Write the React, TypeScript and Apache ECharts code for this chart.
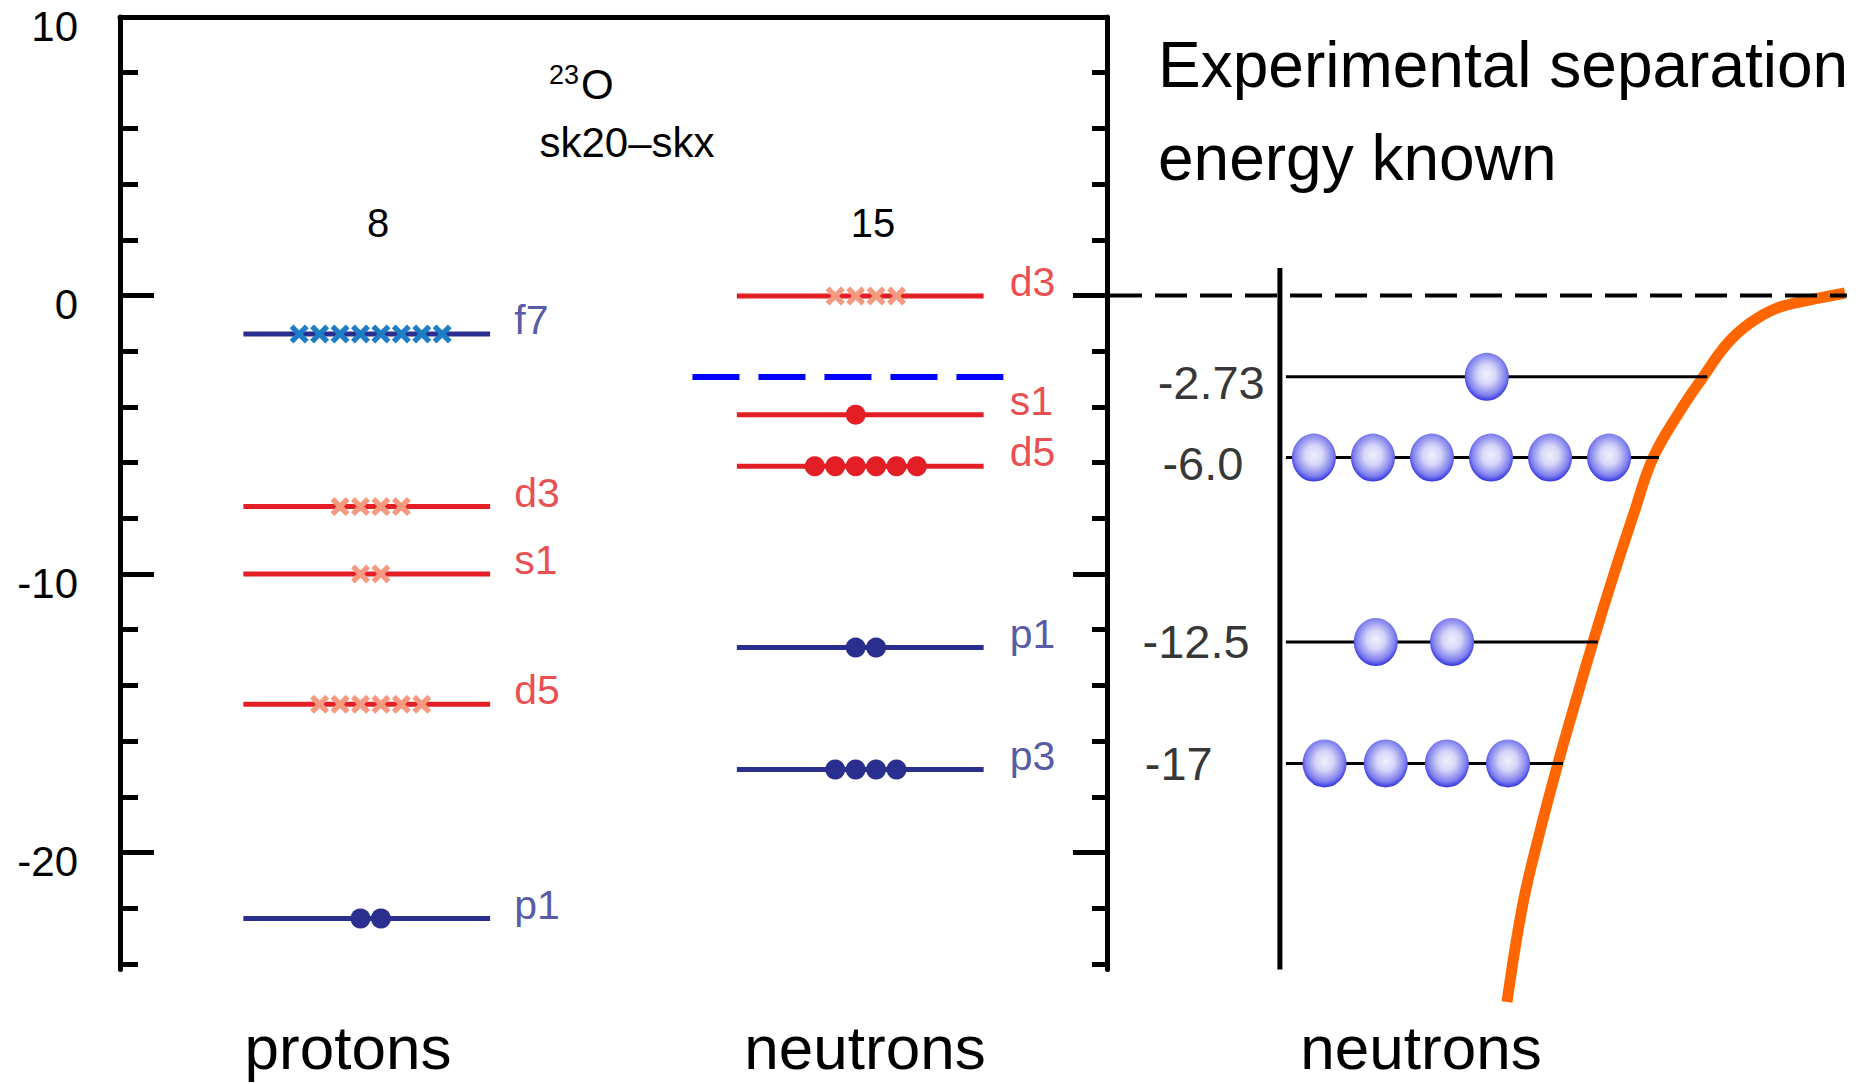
import React, { useEffect, useRef } from "react";
import * as echarts from "echarts";

const FONT = '"Liberation Sans", Arial, Helvetica, sans-serif';

// ---------- energy axis (MeV) ----------
const yMin = -24.2;
const yMax = 10;
const minorTicks = [-24, -22, -20, -18, -16, -14, -12, -10, -8, -6, -4, -2, 0, 2, 4, 6, 8, 10];
const majorTicks = [-20, -10, 0];
const tickLabels = [-20, -10, 0, 10];

// ---------- sk20-skx single-particle levels, 23O ----------
const protonNames = ["f7", "d3", "s1", "d5", "p1"];
const protonEnergies = [-1.38, -7.58, -10.0, -14.68, -22.37];
const protonOccupancy = [8, 4, 2, 6, 2];
const protonFilled = [false, false, false, false, true];

const neutronNames = ["d3", "s1", "d5", "p1", "p3"];
const neutronEnergies = [-0.02, -4.28, -6.13, -12.64, -17.02];
const neutronOccupancy = [4, 1, 6, 2, 4];
const neutronFilled = [false, true, true, true, true];

const neutronSeparation = -2.93; // blue dashed line

// ---------- experimental panel ----------
const expLabels = ["-2.73", "-6.0", "-12.5", "-17"];
const expEnergies = [-2.92, -5.82, -12.44, -16.8];
const expOccupancy = [1, 6, 2, 4];

// potential well (orange curve), x in panel units, y in MeV
const wellX = [52.98, 55.1, 57.4, 59.74, 61.85, 64.37, 67.02, 69.67, 72.32, 75.89, 78.94, 82.12, 85.17, 88.74, 93.11, 97.75];
const wellE = [-25.37, -21.82, -19.19, -16.79, -14.78, -12.44, -10.11, -7.92, -5.83, -4.15, -2.93, -1.74, -0.99, -0.45, -0.16, 0.09];

// ---------- layout (not data) ----------
const RED = "#e31e24";
const NAVY = "#2a2e8e";
const SALMON = "#f59a80";
const XBLUE = "#1f7dc5";
const ORANGE = "#ff6600";

const protonLine = [12.5, 37.5];
const neutronLine = [62.5, 87.5];
const protonMarkCenter = 25.4;
const neutronMarkCenter = 75.57;
const markSpacing = 2.07;
const protonLabelX = 39.9;
const neutronLabelX = 90.1;
const sepLine = [58, 89.5];

const rightAxisX = 22.9;
const rightAxisTop = 0.99;
const expLineStart = 23.7;
const expLineEnd = [79.5, 73.1, 65.0, 60.4];
const ballCenter = [50.3, 46.95, 40.65, 40.97];
const ballSpacing = [0, 7.82, 10.1, 8.1];
const expLabelX = [13.8, 12.7, 11.8, 9.5];
const expLabelDy = [6, 6, 0, 0];

const CROSS = "path://M0,4L4,0L10,6L16,0L20,4L14,10L20,16L16,20L10,14L4,20L0,16L6,10Z";

const levelColor = (name: string) => ("sd".includes(name[0]) ? RED : NAVY);

function slots(n: number, center: number, spacing: number): number[] {
  const c = n % 2 === 1 ? center - spacing / 2 : center;
  const out: number[] = [];
  for (let i = 0; i < n; i++) out.push(c + (i - (n - 1) / 2) * spacing);
  return out;
}

function buildOption() {
  const series: any[] = [];

  const addPanel = (
    names: string[],
    energies: number[],
    occ: number[],
    filled: boolean[],
    line: number[],
    center: number,
    labelX: number
  ) => {
    energies.forEach((e, i) => {
      series.push({
        type: "line",
        xAxisIndex: 0,
        yAxisIndex: 0,
        data: [
          [line[0], e],
          [line[1], e],
        ],
        symbol: "none",
        silent: true,
        z: 2,
        lineStyle: { color: levelColor(names[i]), width: 5, cap: "butt" },
      });
      const red = levelColor(names[i]) === RED;
      const color = filled[i] ? (red ? RED : NAVY) : red ? SALMON : XBLUE;
      series.push({
        type: "scatter",
        xAxisIndex: 0,
        yAxisIndex: 0,
        silent: true,
        z: 3,
        symbol: filled[i] ? "circle" : CROSS,
        symbolSize: filled[i] ? 20 : 19,
        itemStyle: { color, opacity: 1 },
        data: slots(occ[i], center, markSpacing).map((x) => [x, e]),
      });
    });
    series.push({
      type: "scatter",
      xAxisIndex: 0,
      yAxisIndex: 0,
      silent: true,
      z: 4,
      symbolSize: 1,
      itemStyle: { color: "transparent" },
      data: energies.map((e, i) => ({
        value: [labelX, e],
        label: {
          show: true,
          position: "right",
          distance: 0,
          offset: [0, -14],
          formatter: names[i],
          color: levelColor(names[i]),
          fontSize: 41,
          fontFamily: FONT,
        },
      })),
    });
  };

  addPanel(protonNames, protonEnergies, protonOccupancy, protonFilled, protonLine, protonMarkCenter, protonLabelX);
  addPanel(neutronNames, neutronEnergies, neutronOccupancy, neutronFilled, neutronLine, neutronMarkCenter, neutronLabelX);

  series.push({
    type: "line",
    xAxisIndex: 0,
    yAxisIndex: 0,
    silent: true,
    z: 2,
    symbol: "none",
    data: [
      [sepLine[0], neutronSeparation],
      [sepLine[1], neutronSeparation],
    ],
    lineStyle: { color: "#0000ff", width: 6, type: [47, 19], cap: "butt" },
  });

  // ---------- right panel ----------
  series.push({
    type: "line",
    xAxisIndex: 1,
    yAxisIndex: 4,
    silent: true,
    z: 4,
    symbol: "none",
    data: [
      [rightAxisX, rightAxisTop],
      [rightAxisX, yMin],
    ],
    lineStyle: { color: "#000", width: 5, cap: "butt" },
  });
  series.push({
    type: "line",
    xAxisIndex: 1,
    yAxisIndex: 4,
    silent: true,
    clip: false,
    z: 3,
    symbol: "none",
    smooth: 0.4,
    data: wellX.map((x, i) => [x, wellE[i]]),
    lineStyle: { color: ORANGE, width: 11, cap: "butt" },
  });
  series.push({
    type: "line",
    xAxisIndex: 1,
    yAxisIndex: 4,
    silent: true,
    clip: false,
    z: 5,
    symbol: "none",
    data: [
      [0.4, 0],
      [98, 0],
    ],
    lineStyle: { color: "#000", width: 4, type: [32, 13], cap: "butt" },
  });
  expEnergies.forEach((e, i) => {
    series.push({
      type: "line",
      xAxisIndex: 1,
      yAxisIndex: 4,
      silent: true,
      z: 5,
      symbol: "none",
      data: [
        [expLineStart, e],
        [expLineEnd[i], e],
      ],
      lineStyle: { color: "#000", width: 3, cap: "butt" },
    });
  });
  const ballData: number[][] = [];
  expEnergies.forEach((e, i) => {
    slots(expOccupancy[i], ballCenter[i], ballSpacing[i]).forEach((x) => {
      ballData.push([expOccupancy[i] === 1 ? ballCenter[i] : x, e]);
    });
  });
  series.push({
    type: "scatter",
    xAxisIndex: 1,
    yAxisIndex: 4,
    silent: true,
    z: 6,
    symbol: "circle",
    symbolSize: [44, 48],
    itemStyle: {
      color: {
        type: "radial",
        x: 0.5,
        y: 0.45,
        r: 0.58,
        colorStops: [
          { offset: 0, color: "#f0f0ff" },
          { offset: 0.35, color: "#d6d6f8" },
          { offset: 0.75, color: "#8080ee" },
          { offset: 1, color: "#2020dc" },
        ],
      },
      opacity: 1,
    },
    data: ballData,
  });
  series.push({
    type: "scatter",
    xAxisIndex: 1,
    yAxisIndex: 4,
    silent: true,
    z: 6,
    symbolSize: 1,
    itemStyle: { color: "transparent" },
    data: expEnergies.map((e, i) => ({
      value: [expLabelX[i], e],
      label: {
        show: true,
        position: "inside",
        offset: [0, expLabelDy[i]],
        formatter: expLabels[i],
        color: "#000",
        fontSize: 47,
        fontFamily: FONT,
      },
    })),
  });

  const txt = (text: string, x: number, y: number, size: number, align = "center") => ({
    type: "text",
    x,
    y,
    silent: true,
    z: 10,
    style: {
      text,
      fontSize: size,
      fontFamily: FONT,
      fill: "#000",
      align,
      textAlign: align,
      verticalAlign: "middle",
      textVerticalAlign: "middle",
    },
  });

  const axisBase = {
    type: "value",
    min: yMin,
    max: yMax,
    splitLine: { show: false },
  };

  return {
    animation: false,
    backgroundColor: "#fff",
    textStyle: { fontFamily: FONT },
    grid: [
      { left: 120, top: 17, width: 987, bottom: 114.5, containLabel: false, outerBoundsMode: "none" },
      { left: 1107, right: 0, top: 17, bottom: 114.5, containLabel: false, outerBoundsMode: "none" },
    ],
    xAxis: [
      {
        gridIndex: 0,
        type: "value",
        min: 0,
        max: 100,
        position: "top",
        axisLine: { show: true, onZero: false, lineStyle: { color: "#000", width: 5 } },
        axisTick: { show: false },
        axisLabel: { show: false },
        splitLine: { show: false },
      },
      { gridIndex: 1, type: "value", min: 0, max: 100, show: false },
    ],
    yAxis: [
      {
        ...axisBase,
        gridIndex: 0,
        position: "left",
        axisLine: { show: true, onZero: false, lineStyle: { color: "#000", width: 5 } },
        axisTick: { show: true, inside: true, length: 18, customValues: minorTicks, lineStyle: { color: "#000", width: 5 } },
        axisLabel: {
          show: true,
          customValues: tickLabels,
          color: "#000",
          fontSize: 42,
          fontFamily: FONT,
          margin: 42,
          verticalAlign: "top",
          lineHeight: 18,
        },
      },
      {
        ...axisBase,
        gridIndex: 0,
        position: "left",
        axisLine: { show: false, onZero: false },
        axisTick: { show: true, inside: true, length: 34, customValues: majorTicks, lineStyle: { color: "#000", width: 5 } },
        axisLabel: { show: false },
      },
      {
        ...axisBase,
        gridIndex: 0,
        position: "right",
        axisLine: { show: true, onZero: false, lineStyle: { color: "#000", width: 5 } },
        axisTick: { show: true, inside: true, length: 15, customValues: minorTicks, lineStyle: { color: "#000", width: 5 } },
        axisLabel: { show: false },
      },
      {
        ...axisBase,
        gridIndex: 0,
        position: "right",
        axisLine: { show: false, onZero: false },
        axisTick: { show: true, inside: true, length: 34, customValues: majorTicks, lineStyle: { color: "#000", width: 5 } },
        axisLabel: { show: false },
      },
      { ...axisBase, gridIndex: 1, show: false },
    ],
    series,
    graphic: [
      txt("23", 549, 75, 27, "left"),
      txt("O", 581, 84, 42, "left"),
      txt("sk20\u2013skx", 627, 142, 42),
      txt("8", 378, 223, 40),
      txt("15", 873, 223, 40),
      txt("Experimental separation", 1158, 65, 64, "left"),
      txt("energy known", 1158, 158, 64, "left"),
      txt("protons", 348, 1047, 62),
      txt("neutrons", 865, 1047, 62),
      txt("neutrons", 1421, 1047, 62),
    ],
  };
}

export default function App() {
  const ref = useRef<HTMLDivElement>(null);
  useEffect(() => {
    document.body.style.margin = "0";
    const chart = echarts.init(ref.current as HTMLDivElement, null, { renderer: "svg" });
    chart.setOption(buildOption() as any);
    return () => chart.dispose();
  }, []);
  return <div ref={ref} style={{ width: 1862, height: 1084, background: "#fff" }} />;
}
